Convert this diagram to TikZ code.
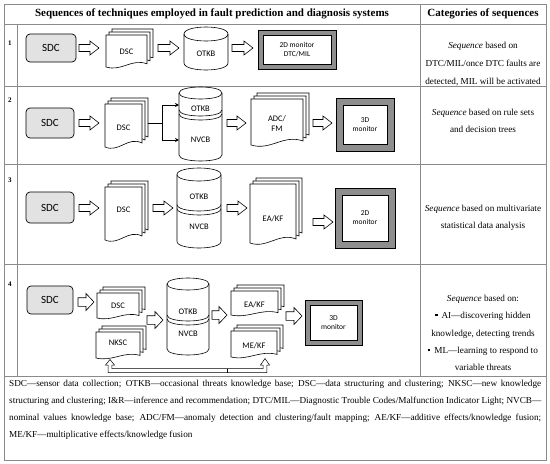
\documentclass[tikz,border=0pt]{standalone}
\usepackage{fontspec}
\setmainfont{Liberation Serif}
\newfontfamily\dfont{Carlito}
\usetikzlibrary{arrows.meta}
\definecolor{tablegray}{HTML}{8A8A8A}
\definecolor{sdcgray}{HTML}{E2E2E2}
\definecolor{mongray}{HTML}{8E8E8E}
\tikzset{
  tline/.style={draw=tablegray, line width=0.9pt},
  sdcbox/.style={draw=black, fill=sdcgray, rounded corners=4pt, line width=0.7pt, font=\dfont\fontsize{11}{12}\selectfont, inner sep=0pt},
  shp/.style={draw=black, fill=white, line width=0.6pt},
  shpl/.style={draw=black, line width=0.6pt},
  mon/.style={draw=black, fill=mongray, line width=0.5pt},
  lbl/.style={font=\dfont\fontsize{8.5}{10}\selectfont, align=center, inner sep=0pt},
  mlbl/.style={font=\dfont\fontsize{7.5}{9}\selectfont, align=center, inner sep=0pt},
  rtext/.style={font=\fontsize{9.2}{11}\selectfont, anchor=base, inner sep=0pt},
  htext/.style={font=\bfseries\fontsize{11}{12}\selectfont, inner sep=0pt},
  numtext/.style={font=\bfseries\fontsize{7}{8}\selectfont, inner sep=0pt},
  ftext/.style={font=\fontsize{9.2}{11}\selectfont, anchor=base west, inner sep=0pt},
  conn/.style={draw=black, line width=0.6pt},
  connarrow/.style={conn, -{Stealth[length=4pt,width=4pt]}}
}
\newcommand\dpage[4]{%
  \pgfmathsetmacro\dpX{#1}\pgfmathsetmacro\dpY{#2}\pgfmathsetmacro\dpW{#3}\pgfmathsetmacro\dpH{#4}%
  \pgfmathsetmacro\dpA{min(1,\dpH/40)}%
  \draw[shp] (\dpX,\dpY) -- (\dpX+\dpW,\dpY) -- (\dpX+\dpW,\dpY+\dpH-4*\dpA)
    .. controls (\dpX+0.62*\dpW,\dpY+\dpH-11*\dpA) and (\dpX+0.38*\dpW,\dpY+\dpH+6*\dpA) .. (\dpX,\dpY+\dpH) -- cycle;}
\newcommand\dstack[7]{%
  \dpage{#2+6}{#3}{#4-#2-6}{#5-#3-6}%
  \dpage{#2+3}{#3+3}{#4-#2-6}{#5-#3-6}%
  \dpage{#2}{#3+6}{#4-#2-6}{#5-#3-6}%
  \node[lbl] (#1) at ({(#2+#4-6)/2},#7) {#6};}
\newcommand\harrow[6]{%
  \draw[shp] (#1,#3-#4) -- (#2-#6,#3-#4) -- (#2-#6,#3-#5) -- (#2,#3) -- (#2-#6,#3+#5) -- (#2-#6,#3+#4) -- (#1,#3+#4) -- cycle;}
\newcommand\ha[3]{\harrow{#1}{#2}{#3}{3.5}{7}{9}}
\newcommand\hb[3]{\harrow{#1}{#2}{#3}{4.3}{8.5}{8}}
\newcommand\cylbody[5]{%
  \pgfmathsetmacro\cxa{#1}\pgfmathsetmacro\cxb{#2}\pgfmathsetmacro\cyt{#3}\pgfmathsetmacro\cyb{#4}\pgfmathsetmacro\cry{#5}\pgfmathsetmacro\crk{1.333*#5}%
  \draw[shp] (\cxa,\cyt+\cry) -- (\cxa,\cyb-\cry) .. controls (\cxa,\cyb-\cry+\crk) and (\cxb,\cyb-\cry+\crk) .. (\cxb,\cyb-\cry)
    -- (\cxb,\cyt+\cry) .. controls (\cxb,\cyt+\cry-\crk) and (\cxa,\cyt+\cry-\crk) .. (\cxa,\cyt+\cry) -- cycle;
  \draw[shpl] (\cxa,\cyt+\cry) .. controls (\cxa,\cyt+\cry+\crk) and (\cxb,\cyt+\cry+\crk) .. (\cxb,\cyt+\cry);}
\newcommand\cyljoin[4]{%
  \pgfmathsetmacro\cxa{#1}\pgfmathsetmacro\cxb{#2}\pgfmathsetmacro\cyj{#3}\pgfmathsetmacro\cry{#4}\pgfmathsetmacro\crk{1.333*#4}%
  \draw[shpl] (\cxa,\cyj-\cry) .. controls (\cxa,\cyj-\cry+\crk) and (\cxb,\cyj-\cry+\crk) .. (\cxb,\cyj-\cry);
  \draw[shpl] (\cxa,\cyj-\cry+4) .. controls (\cxa,\cyj-\cry+4+\crk) and (\cxb,\cyj-\cry+4+\crk) .. (\cxb,\cyj-\cry+4);}
\newcommand\monitor[7]{%
  \filldraw[mon] (#2,#3) rectangle (#4,#5);
  \filldraw[shp, line width=0.5pt] (#2+#6,#3+#6) rectangle (#4-#6,#5-#6);
  \node[mlbl] (#1) at ({(#2+#4)/2},{(#3+#5)/2}) {#7};}
\begin{document}
\begin{tikzpicture}[x=1pt,y=-1pt]
\useasboundingbox (0,0) rectangle (550,464);
% table
\draw[tline] (4,4) rectangle (546,460);
\draw[tline] (4,24) -- (546,24);
\draw[tline] (4,86) -- (546,86);
\draw[tline] (4,164) -- (546,164);
\draw[tline] (4,264) -- (546,264);
\draw[tline] (4,376) -- (546,376);
\draw[tline] (17,24) -- (17,376);
\draw[tline] (420,4) -- (420,376);
% headers
\node[htext] (h1) at (212,14) {Sequences of techniques employed in fault prediction and diagnosis systems};
\node[htext] (h2) at (483,14) {Categories of sequences};
% row numbers
\node[numtext] (n1) at (10,43) {1};
\node[numtext] (n2) at (10,100) {2};
\node[numtext] (n3) at (10,180) {3};
\node[numtext] (n4) at (10,284) {4};
% ---------- row 1
\node[sdcbox, minimum width=50pt, minimum height=28pt] (sdc1) at (51,48) {SDC};
\ha{79}{99}{48}
\dstack{dsc1}{106}{29}{153}{67}{DSC}{52}
\ha{158}{179}{48}
\cylbody{184}{228}{27}{70}{7}
\node[lbl] (otkb1) at (206,54) {OTKB};
\ha{232}{253}{48}
\monitor{mon1}{258}{30}{336}{69}{5}{2D monitor\\DTC/MIL}
% ---------- row 2
\node[sdcbox, minimum width=48pt, minimum height=30pt] (sdc2) at (50,123) {SDC};
\ha{79}{99}{123}
\dstack{dsc2}{105}{98}{148}{147}{DSC}{128}
\cylbody{179}{222}{87}{161}{6}
\cyljoin{179}{222}{116}{6}
\node[lbl] (otkb2) at (200.5,109) {OTKB};
\node[lbl] (nvcb2) at (200.5,140) {NVCB};
\coordinate (dsc2r) at (148,123);
\coordinate (br2) at (162,123);
\coordinate (j2a) at (162,105);
\coordinate (j2b) at (162,140);
\coordinate (otkb2w) at (179,105);
\coordinate (nvcb2w) at (179,140);
\draw[conn] (dsc2r) -- (br2);
\draw[conn] (j2a) -- (j2b);
\draw[connarrow] (j2a) -- (otkb2w);
\draw[connarrow] (j2b) -- (nvcb2w);
\ha{227}{246}{123}
\dstack{adc2}{251}{93}{309}{145}{ADC/\\FM}{124}
\ha{313}{332}{123}
\monitor{mon2}{336}{98}{394}{151}{7}{3D\\monitor}
% ---------- row 3
\node[sdcbox, minimum width=48pt, minimum height=31pt] (sdc3) at (50,207.5) {SDC};
\ha{79}{99}{208}
\dstack{dsc3}{105}{181}{148}{240}{DSC}{210}
\ha{153}{173}{208}
\cylbody{177}{221}{168}{248}{6.5}
\cyljoin{177}{221}{211}{6.5}
\node[lbl] (otkb3) at (199,197) {OTKB};
\node[lbl] (nvcb3) at (199,227) {NVCB};
\ha{227}{247}{208}
\dstack{eakf3}{250}{178}{302}{243}{EA/KF}{219}
\ha{313}{333}{222}
\monitor{mon3}{335}{188}{395}{248}{7}{2D\\monitor}
% ---------- row 4
\node[sdcbox, minimum width=46pt, minimum height=28pt] (sdc4) at (50,300) {SDC};
\hb{78}{94}{302}
\dstack{dsc4}{97}{287}{145}{318}{DSC}{306}
\dstack{nksc4}{96}{326}{146}{358}{NKSC}{343}
\hb{147}{163}{320}
\cylbody{167}{209}{278}{355}{6}
\cyljoin{167}{209}{321}{6}
\node[lbl] (otkb4) at (188,312) {OTKB};
\node[lbl] (nvcb4) at (188,334) {NVCB};
\hb{212}{227}{315}
\dstack{eakf4}{231}{285}{284}{315}{EA/KF}{305}
\dstack{mekf4}{231}{325}{283}{357}{ME/KF}{346}
\hb{286}{302}{316}
\monitor{mon4}{305}{300}{362}{345}{5}{3D\\monitor}
% feedback loop
\draw[shp, line width=0.5pt] (110,359.5) -- (114.5,365) -- (111.8,365) -- (111.8,368.5) -- (263.2,368.5) -- (263.2,365) -- (260.5,365) -- (265,358.5) -- (269.5,365) -- (266.8,365) -- (266.8,372.5) -- (108.2,372.5) -- (108.2,365) -- (105.5,365) -- cycle;
\draw[conn, line width=0.5pt] (227,368.5) -- (227,372.5);
% ---------- right column
\node[rtext] (c1a) at (483,48) {\textit{Sequence} based on};
\node[rtext] (c1b) at (483,66) {DTC/MIL/once DTC faults are};
\node[rtext] (c1c) at (483,84) {detected, MIL will be activated};
\node[rtext] (c2a) at (483,115) {\textit{Sequence} based on rule sets};
\node[rtext] (c2b) at (483,132) {and decision trees};
\node[rtext] (c3a) at (483,211) {\textit{Sequence} based on multivariate};
\node[rtext] (c3b) at (483,228) {statistical data analysis};
\node[rtext] (c4a) at (483,301) {\textit{Sequence} based on:};
\node[rtext] (c4b) at (483,318) {\raisebox{1.6pt}{\rule{2.2pt}{2.2pt}}\hspace{4pt}AI—discovering hidden};
\node[rtext] (c4c) at (483,336) {knowledge, detecting trends};
\node[rtext] (c4d) at (483,353) {\raisebox{1.6pt}{\rule{2.2pt}{2.2pt}}\hspace{4pt}ML—learning to respond to};
\node[rtext] (c4e) at (483,370) {variable threats};
% ---------- footnote
\node[ftext] (f1) at (9,386) {\makebox[532pt][s]{SDC—sensor data collection; OTKB—occasional threats knowledge base; DSC—data structuring and clustering; NKSC—new knowledge}};
\node[ftext] (f2) at (9,403) {\makebox[532pt][s]{structuring and clustering; I\&R—inference and recommendation; DTC/MIL—Diagnostic Trouble Codes/Malfunction Indicator Light; NVCB—}};
\node[ftext] (f3) at (9,420) {\makebox[532pt][s]{nominal values knowledge base; ADC/FM—anomaly detection and clustering/fault mapping; AE/KF—additive effects/knowledge fusion;}};
\node[ftext] (f4) at (9,437) {ME/KF—multiplicative effects/knowledge fusion};
\end{tikzpicture}
\end{document}
